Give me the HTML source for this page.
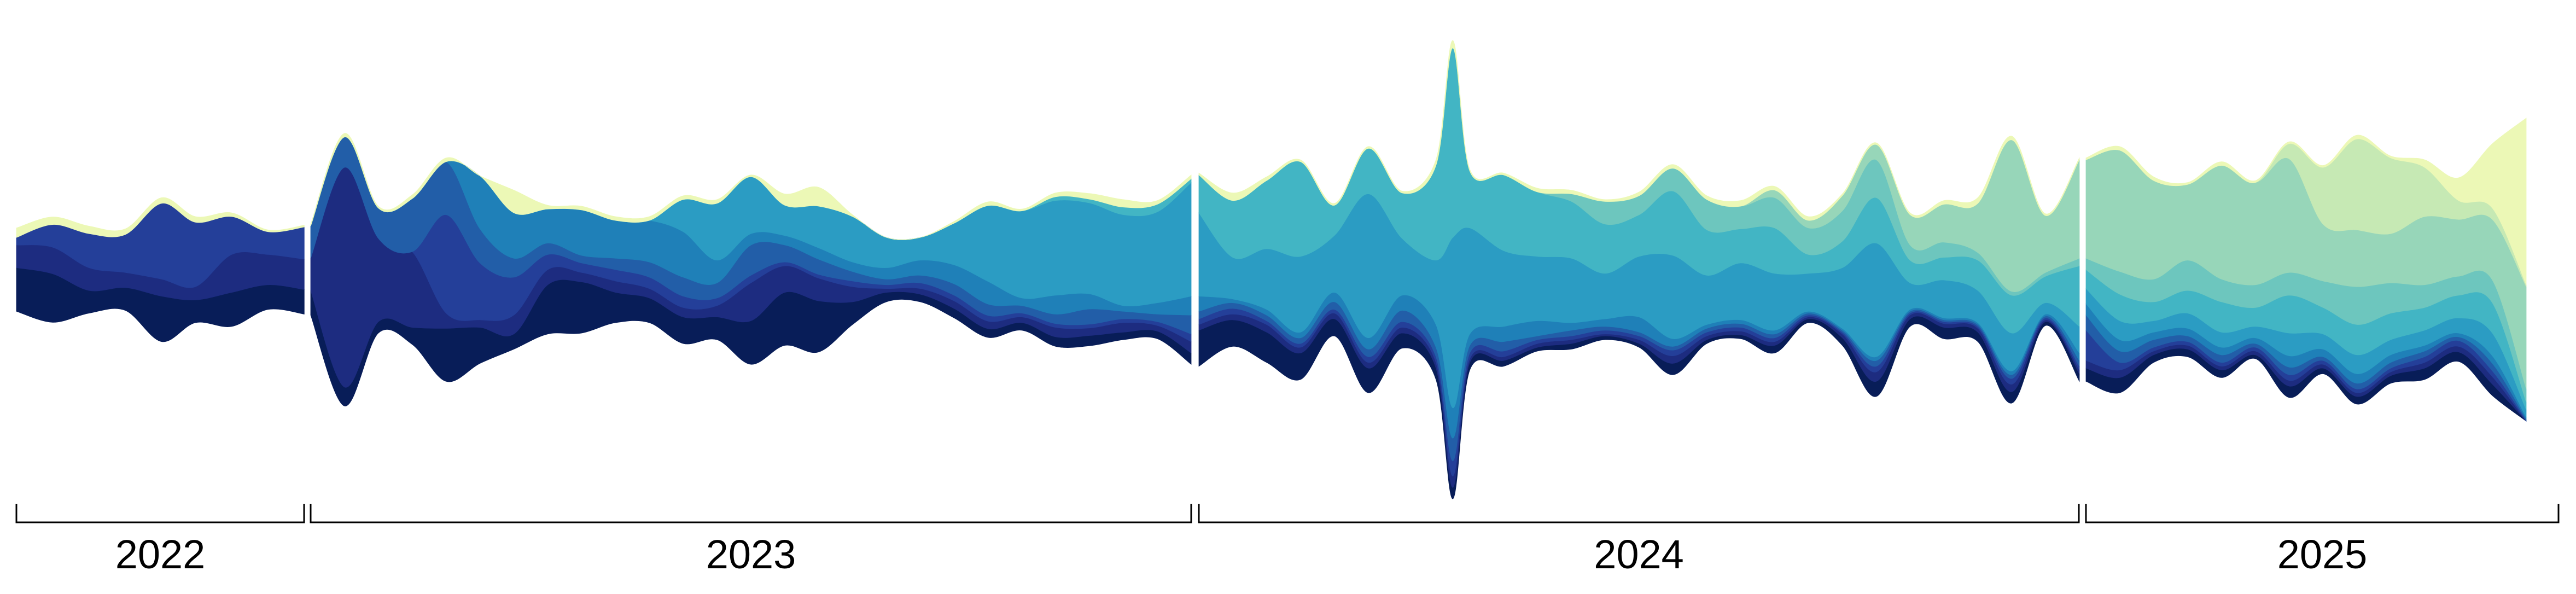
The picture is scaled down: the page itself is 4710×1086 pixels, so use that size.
<!DOCTYPE html>
<html><head><meta charset="utf-8"><style>
html,body{margin:0;padding:0;background:#fff;}
svg{display:block;}
text{font-family:"Liberation Sans",sans-serif;}
</style></head><body>
<svg id="chart" width="4710" height="1086" viewBox="0 0 4710 1086" xmlns="http://www.w3.org/2000/svg">
<g id="layers"></g>
<g id="axis"></g>
</svg>
<script>
// ---- data ----
const years = [2022, 2023, 2024, 2025];
const segStartDay = [0, 0, 0, 0];
const segEndDay = [119, 364, 364, 196];
const seg = [0,0,0,0,0,0,0,0,0,
 1,1,1,1,1,1,1,1,1,1,1,1,1,1,1,1,1,1,1,1,1,1,1,1,1,1,1,
 2,2,2,2,2,2,2,2,2,2,2,2,2,2,2,2,2,2,2,2,2,2,2,2,2,2,2,2,
 3,3,3,3,3,3,3,3,3,3,3,3,3,3];
const days = [0,15,30,45,60,74,89,104,119,
 0,14,28,42,56,70,84,98,112,126,140,154,168,182,196,210,224,238,252,266,280,294,308,322,336,350,364,
 0,14,28,42,56,70,84,98,105,112,126,140,154,168,182,196,210,224,238,252,266,280,294,308,322,336,350,364,
 0,14,28,42,56,70,84,98,112,126,140,154,168,182];
const s0 = [115,128,60,60,120,60,90,65,65,
 65,50,30,45,140,95,40,130,135,80,65,70,60,115,140,135,60,25,20,25,23,20,25,27,20,20,30,
 95,70,80,70,45,65,40,30,30,20,15,10,15,10,10,30,10,10,20,10,20,40,20,30,25,30,10,20,
 35,40,20,20,20,10,30,15,20,20,30,25,30,0];
const s1 = [60,70,60,40,45,35,100,80,80,
 85,580,220,200,40,20,50,40,25,30,25,25,30,100,70,60,40,10,15,20,20,15,25,20,25,15,30,
 15,15,20,15,15,15,15,15,30,10,10,10,10,5,10,20,10,10,10,5,10,25,10,10,10,20,5,10,
 20,20,10,10,10,10,15,10,10,10,15,15,20,0];
const s2 = [20,60,90,100,200,170,100,60,85,
 0,0,0,0,260,150,100,40,25,30,30,30,20,20,10,10,15,10,15,15,15,10,10,10,10,10,20,
 15,15,10,10,10,15,15,15,40,15,15,10,10,10,10,15,10,10,10,5,5,15,5,5,5,15,5,10,
 80,20,10,10,10,10,15,10,10,10,15,15,15,2];
const s3 = [0,0,0,0,0,0,0,0,0,
 85,80,80,140,140,90,50,30,20,30,40,50,40,80,45,40,25,15,20,30,30,20,25,40,20,20,50,
 20,15,15,15,20,20,30,25,60,20,25,10,15,10,10,10,10,10,10,5,5,15,5,5,5,10,5,15,
 40,30,20,15,20,10,20,10,15,15,15,10,20,3];
const s4 = [0,0,0,0,0,0,0,0,0,
 0,0,0,0,0,140,120,90,120,100,110,120,60,30,25,30,25,30,40,50,60,20,50,40,15,30,50,
 40,10,15,15,25,30,40,60,80,30,40,40,20,20,40,20,10,10,10,5,5,10,5,5,5,10,5,20,
 30,30,20,20,20,15,30,20,25,20,15,10,20,5];
const s5 = [0,0,0,0,0,0,0,0,0,
 0,0,0,0,0,0,0,0,0,0,0,85,150,150,80,110,120,80,60,110,200,230,250,240,240,240,300,
 220,110,160,200,150,380,150,170,450,280,200,170,170,120,160,220,130,150,150,100,160,300,70,100,85,100,30,70,
 40,50,30,40,40,30,60,40,50,40,40,40,60,20];
const s6 = [0,0,0,0,0,0,0,0,0,
 0,0,0,0,0,0,0,0,0,0,0,0,0,0,0,0,0,0,0,0,0,0,10,10,20,20,10,
 100,150,180,250,80,120,120,250,500,150,200,170,150,130,110,170,120,90,120,50,70,120,60,60,80,100,70,160,
 50,70,50,60,80,50,100,70,80,70,60,60,80,20];
const s7 = [0,0,0,0,0,0,0,0,0,
 0,0,0,0,0,0,0,0,0,0,0,0,0,0,0,0,0,0,0,0,0,0,0,0,0,0,0,
 0,0,0,0,0,0,0,0,0,0,0,0,20,60,50,60,80,60,80,70,80,100,40,40,20,10,10,20,
 30,60,60,80,60,60,60,70,100,80,60,50,60,35];
const s8 = [0,0,0,0,0,0,0,0,0,
 0,0,0,0,0,0,0,0,0,0,0,0,0,0,0,0,0,0,0,0,0,0,0,0,0,0,0,
 0,0,0,0,0,0,0,0,0,0,0,0,0,0,0,0,0,0,20,20,40,40,80,100,130,400,150,260,
 260,320,260,200,300,270,300,150,150,130,180,150,160,270];
const s9 = [0,0,0,0,0,0,0,0,0,
 0,0,0,0,0,0,0,0,0,0,0,0,0,0,0,0,0,0,0,0,0,0,0,0,0,0,0,
 0,0,0,0,0,0,0,0,0,0,0,0,0,0,0,0,0,0,0,0,0,0,0,0,0,0,0,0,
 0,0,0,0,0,0,40,150,240,200,130,50,30,5];
const s10 = [25,20,20,15,15,15,10,5,5,
 5,10,5,10,10,0,60,10,10,10,10,10,10,5,30,50,5,0,0,5,10,5,10,15,20,10,10,
 5,20,10,5,5,5,5,15,20,5,5,10,10,5,10,10,10,15,10,10,5,5,5,10,15,10,5,5,
 5,10,10,5,10,5,5,5,10,5,20,60,170,440];
const series = [s0,s1,s2,s3,s4,s5,s6,s7,s8,s9,s10];

// ---- layout / scales ----
const colors = ["#081d58","#1d2c80","#243f99","#225ea8","#1f80b8","#2b9cc3","#42b5c4","#6dc6be","#97d6b9","#c6e9b4","#ecf8b6"];
const segPx = [[30,556],[568,2178],[2192,3801],[3814,4678]];
const pxPerDay = 1610/364;
const centerY = 493, kY = 0.6926;
function xScale(i){ return segPx[seg[i]][0] + (days[i]-segStartDay[seg[i]])*pxPerDay; }
function yScale(v){ return v*kY; }

function crPath(pts){
  let d = "";
  for(let i=0;i<pts.length-1;i++){
    const p0=pts[Math.max(0,i-1)], p1=pts[i], p2=pts[i+1], p3=pts[Math.min(pts.length-1,i+2)];
    const c1x=p1[0]+(p2[0]-p0[0])/6, c1y=p1[1]+(p2[1]-p0[1])/6;
    const c2x=p2[0]-(p3[0]-p1[0])/6, c2y=p2[1]-(p3[1]-p1[1])/6;
    d += ` C${c1x.toFixed(1)},${c1y.toFixed(1)} ${c2x.toFixed(1)},${c2y.toFixed(1)} ${p2[0].toFixed(1)},${p2[1].toFixed(1)}`;
  }
  return d;
}

const NS = "http://www.w3.org/2000/svg";
const gL = document.getElementById("layers");
const n = days.length;
// silhouette baseline (bottom edge), stacking upward
const base = [];
for(let i=0;i<n;i++){ let t=0; for(const s of series) t+=s[i]; base.push(centerY + yScale(t)/2); }

for(let sg=0; sg<years.length; sg++){
  const idx = []; for(let i=0;i<n;i++) if(seg[i]===sg) idx.push(i);
  const cum = idx.map(i=>base[i]);
  series.forEach((s,li)=>{
    const lower = idx.map((i,k)=>[xScale(i), cum[k]]);
    const upper = idx.map((i,k)=>[xScale(i), cum[k]-yScale(s[i])]);
    idx.forEach((i,k)=>{ cum[k] -= yScale(s[i]); });
    if(idx.every(i=>s[i]===0)) return;
    const lr = lower.slice().reverse();
    const d = `M${upper[0][0].toFixed(1)},${upper[0][1].toFixed(1)}` + crPath(upper) +
            ` L${lr[0][0].toFixed(1)},${lr[0][1].toFixed(1)}` + crPath(lr) + " Z";
    const p = document.createElementNS(NS,"path");
    p.setAttribute("d", d);
    p.setAttribute("fill", colors[li]);
    p.setAttribute("stroke", colors[li]);
    p.setAttribute("stroke-width", "0.8");
    
    
    gL.appendChild(p);
  });
}

// ---- axis brackets ----
const gA = document.getElementById("axis");
years.forEach((yr,sg)=>{
  const a = segPx[sg][0], b = segPx[sg][1];
  const path = document.createElementNS(NS,"path");
  path.setAttribute("d", `M${a},921 V955 H${b} V921`);
  path.setAttribute("fill","none");
  path.setAttribute("stroke","#000");
  path.setAttribute("stroke-width","3");
  
  
  gA.appendChild(path);
  const t = document.createElementNS(NS,"text");
  t.setAttribute("x", (a+b)/2);
  t.setAttribute("y", 1039);
  t.setAttribute("text-anchor","middle");
  t.setAttribute("font-size","74");
  t.setAttribute("fill","#000");
  t.textContent = yr;
  
  
  gA.appendChild(t);
});
</script>
</body></html>
